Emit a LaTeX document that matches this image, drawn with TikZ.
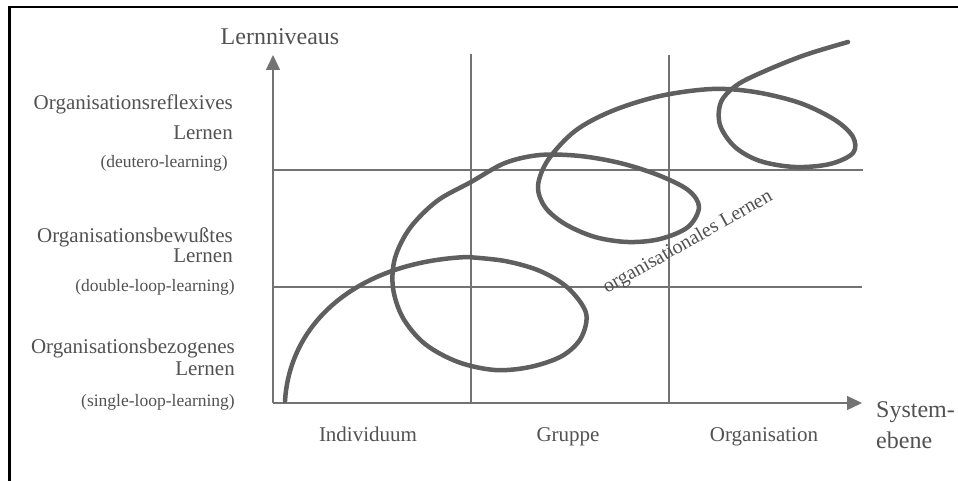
\documentclass[tikz,border=0pt]{standalone}
\usepackage{fontspec}
\setmainfont{Liberation Serif}
\usetikzlibrary{arrows.meta}
\definecolor{txt}{RGB}{82,82,82}
\definecolor{ln}{RGB}{115,115,115}
\definecolor{crv}{RGB}{95,95,95}
\begin{document}
\begin{tikzpicture}[x=1pt,y=-1pt,
  grid/.style={draw=ln, line width=1.2pt},
  axis/.style={draw=ln, line width=1.3pt, -{Triangle[length=15pt,width=14pt]}},
  lvl/.style={text=txt, font=\fontsize{21}{24}\selectfont, anchor=base east, inner sep=0pt},
  sub/.style={text=txt, font=\fontsize{17.5}{20}\selectfont, anchor=base east, inner sep=0pt},
  cat/.style={text=txt, font=\fontsize{21}{24}\selectfont, anchor=base, inner sep=0pt},
  axlab/.style={text=txt, font=\fontsize{24}{28}\selectfont, inner sep=0pt},
  curve/.style={draw=crv, line width=4.5pt, line cap=round, line join=round}]
\useasboundingbox[fill=white] (0,0) rectangle (958,481);
% frame
\draw[black, line width=2.3pt] (9.5,481) -- (9.5,7.3) -- (958,7.3);
% axes
\coordinate (O) at (273,403);
\coordinate (ytip) at (273,55);
\coordinate (xtip) at (862,403);
\coordinate (v1b) at (471,403); \coordinate (v1t) at (471,54);
\coordinate (v2b) at (669,403); \coordinate (v2t) at (669,55);
\coordinate (h1l) at (273,170); \coordinate (h1r) at (863,170);
\coordinate (h2l) at (273,287); \coordinate (h2r) at (862,287);
\draw[grid] (v1b) -- (v1t);
\draw[grid] (v2b) -- (v2t);
\draw[grid] (h1l) -- (h1r);
\draw[grid] (h2l) -- (h2r);
\draw[axis] (O) -- (ytip);
\draw[axis] (O) -- (xtip);
% axis labels
\node[axlab, anchor=base] (ylab) at (280,45) {Lernniveaus};
\node[axlab, anchor=base west] (xlab1) at (876,417) {System-};
\node[axlab, anchor=base west] (xlab2) at (876,448) {ebene};
% level labels
\node[lvl] (l3a) at (233,110) {Organisationsreflexives};
\node[lvl] (l3b) at (233,140) {Lernen};
\node[sub] (l3c) at (228,168) {(deutero-learning)};
\node[lvl] (l2a) at (233,242) {Organisationsbewußtes};
\node[lvl] (l2b) at (233,262) {Lernen};
\node[sub] (l2c) at (235,291) {(double-loop-learning)};
\node[lvl] (l1a) at (235,353) {Organisationsbezogenes};
\node[lvl] (l1b) at (235,375) {Lernen};
\node[sub] (l1c) at (235,406) {(single-loop-learning)};
% categories
\node[cat] (c1) at (368,441) {Individuum};
\node[cat] (c2) at (568,441) {Gruppe};
\node[cat] (c3) at (764,441) {Organisation};
% curve
\draw[curve] (285,401) .. controls (290,320) and (360,262) .. (467,257)
 -- plot[smooth, tension=0.55] coordinates {(467,257)
(505,261) (540,271) (568,288) (586,313) (581,338) (562,356) (530,367) (495,370)
(458,362) (425,344) (403,318) (393,288) (395,258) (410,228) (437,201) (471,182)
(505,163) (540,155) (580,156) (620,163) (658,175) (688,190) (699,207) (688,227)
(660,239) (628,242) (595,237) (565,224) (545,207) (538,186) (548,160) (575,131)
(612,111) (660,96) (712,89) (755,92) (800,103) (835,120) (853,137) (853,153)
(830,164) (795,167) (760,161) (735,147) (720,125) (721,102) (737,85) (765,71)
(805,55) (848,42)};
% curve label
\node[text=txt, font=\fontsize{20}{24}\selectfont, anchor=base west, inner sep=0pt, rotate=29.5] (ol) at (607,294) {organisationales Lernen};
\end{tikzpicture}
\end{document}
